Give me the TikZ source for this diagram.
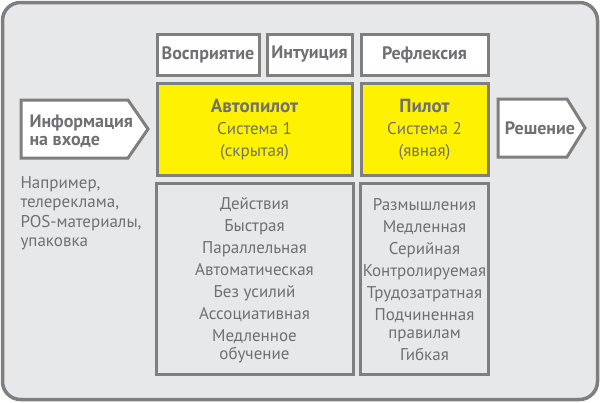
\documentclass[tikz,border=0pt]{standalone}
\usepackage{fontspec}
\setmainfont{PT Sans}

\definecolor{bggray}{HTML}{E7E8E9}
\definecolor{edgegray}{HTML}{7F7F7F}
\definecolor{txtgray}{HTML}{6F7072}
\definecolor{pilotyellow}{HTML}{FFF200}

\begin{document}
\begin{tikzpicture}[x=1pt, y=-1pt,
    box/.style={draw=edgegray, line width=3pt, fill=white, inner sep=0pt},
    head/.style={font=\bfseries\fontsize{18}{18}\selectfont, text=txtgray},
    body/.style={font=\fontsize{17}{22}\selectfont, text=txtgray, align=center}]
    \useasboundingbox (0,0) rectangle (600,402);

    % outer frame
    \draw[draw=edgegray, line width=3.5pt, fill=bggray, rounded corners=18pt] (2.5,2.5) rectangle (597.5,399.5);

    % top boxes
    \node[box, head, minimum width=102pt, minimum height=41pt] (perc) at (208,54.5) {Восприятие};
    \node[box, head, minimum width=85pt, minimum height=41pt] (intu) at (309.5,54.5) {Интуиция};
    \node[box, head, minimum width=127pt, minimum height=41pt] (refl) at (424.5,54.5) {Рефлексия};

    % yellow boxes
    \node[box, body, fill=pilotyellow, minimum width=195pt, minimum height=92pt] (auto) at (254.5,129.5)
        {{\bfseries\fontsize{19}{22}\selectfont Автопилот}\\Система 1\\(скрытая)};
    \node[box, body, fill=pilotyellow, minimum width=127pt, minimum height=92pt] (pilot) at (424.5,129.5)
        {{\bfseries\fontsize{19}{22}\selectfont Пилот}\\Система 2\\(явная)};

    % lower boxes
    \node[box, fill=bggray, minimum width=197pt, minimum height=191pt] (autolist) at (254.5,278.5) {};
    \node[box, fill=bggray, minimum width=128pt, minimum height=191pt] (pilotlist) at (424.5,278.5) {};
    \node[body, anchor=north] (autotext) at (autolist.north) [yshift=-13pt]
        {Действия\\Быстрая\\Параллельная\\Автоматическая\\Без усилий\\Ассоциативная\\Медленное\\[-4pt]обучение};
    \node[body, anchor=north] (pilottext) at (pilotlist.north) [yshift=-13pt]
        {Размышления\\Медленная\\Серийная\\Контролируемая\\Трудозатратная\\Подчиненная\\[-4pt]правилам\\Гибкая};

    % input and output arrows
    \draw[box] (21,100) -- (128,100) -- (148,129) -- (128,158) -- (21,158) -- cycle;
    \node[head, align=left, anchor=west, font=\bfseries\fontsize{18}{18}\selectfont] (input) at (26,131)
        {Информация\\на входе};
    \draw[box] (498,99) -- (567,99) -- (585,128) -- (567,157) -- (498,157) -- cycle;
    \node[head] (output) at (540,128) {Решение};

    % examples
    \node[anchor=north west, align=left, text=txtgray, font=\fontsize{17}{19.5}\selectfont] (examples) at (17,173)
        {Например,\\телереклама,\\POS-материалы,\\упаковка};
\end{tikzpicture}
\end{document}
